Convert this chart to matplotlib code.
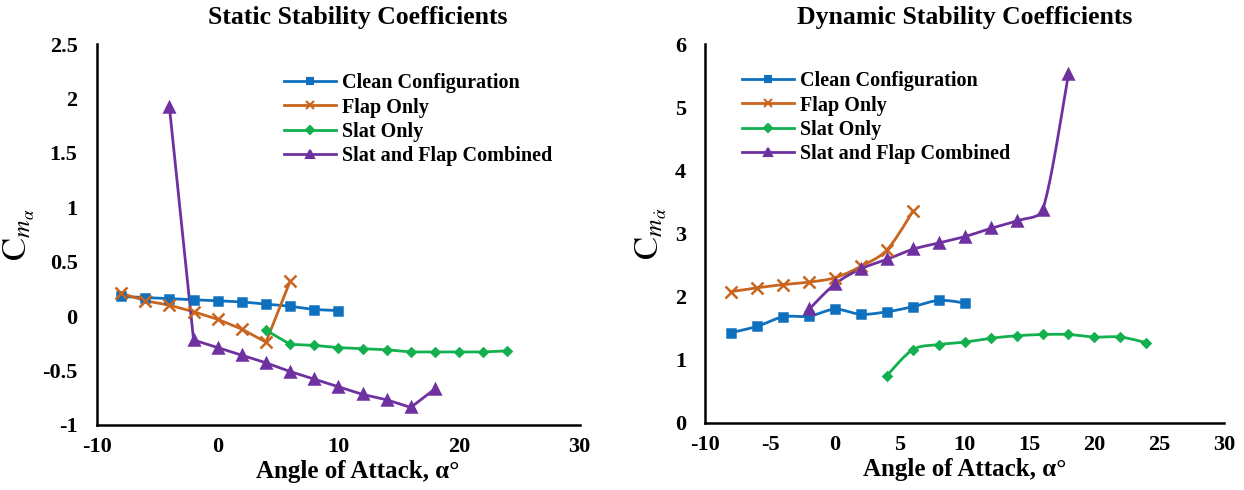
import numpy as np
import matplotlib

matplotlib.use("Agg")
import matplotlib.pyplot as plt
from matplotlib.lines import Line2D

# --- data ---
aoa_clean = [-8, -6, -4, -2, 0, 2, 4, 6, 8, 10]
aoa_flap = [-8, -6, -4, -2, 0, 2, 4, 6]
aoa_slat = [4, 6, 8, 10, 12, 14, 16, 18, 20, 22, 24]
aoa_comb_static = [-4, -2, 0, 2, 4, 6, 8, 10, 12, 14, 16, 18]
aoa_comb_dyn = [-2, 0, 2, 4, 6, 8, 10, 12, 14, 16, 18]

static_clean = [0.18, 0.17, 0.16, 0.15, 0.14, 0.13, 0.11, 0.09, 0.06, 0.05]
static_flap = [0.21, 0.14, 0.10, 0.04, -0.03, -0.12, -0.24, 0.32]
static_slat = [-0.13, -0.26, -0.27, -0.29, -0.30, -0.31, -0.33, -0.33, -0.33, -0.33, -0.32]
static_comb = [1.92, -0.22, -0.29, -0.36, -0.43, -0.51, -0.58, -0.65, -0.72, -0.77, -0.84, -0.67]

dyn_clean = [1.43, 1.53, 1.68, 1.69, 1.80, 1.72, 1.76, 1.84, 1.94, 1.90]
dyn_flap = [2.08, 2.14, 2.19, 2.23, 2.30, 2.48, 2.74, 3.35]
dyn_slat = [0.75, 1.16, 1.24, 1.28, 1.34, 1.38, 1.40, 1.40, 1.36, 1.36, 1.27]
dyn_comb = [1.80, 2.20, 2.44, 2.59, 2.75, 2.85, 2.95, 3.08, 3.20, 3.37, 5.52]

labels = ["Clean Configuration", "Flap Only", "Slat Only", "Slat and Flap Combined"]

# --- style ---
BLUE = "#0F70BE"
ORANGE = "#C9651E"
GREEN = "#12B04E"
PURPLE = "#7031A0"
colors = [BLUE, ORANGE, GREEN, PURPLE]
markers = ["s", "x", "D", "^"]
msizes = [5.5, 8, 4.5, 6.5]

plt.rcParams.update(
    {
        "font.family": "Liberation Serif",
        "mathtext.fontset": "stix",
    }
)


def smooth(x, y, span, n=24):
    # Excel-like smoothed line: cubic Bezier through the points, handles
    # from neighbours (Catmull-Rom) but clipped so they cannot overshoot
    p = np.column_stack([x, y]).astype(float) / np.array(span)
    out = []
    t = np.linspace(0, 1, n)[:, None]
    for i in range(len(p) - 1):
        p1, p2 = p[i], p[i + 1]
        p0 = p[i - 1] if i > 0 else p1
        p3 = p[i + 2] if i + 2 < len(p) else p2
        seg = np.linalg.norm(p2 - p1)
        d1 = (p2 - p0) / 6
        d2 = (p3 - p1) / 6
        lim = 0.4 * seg
        if np.linalg.norm(d1) > lim:
            d1 = d1 / np.linalg.norm(d1) * lim
        if np.linalg.norm(d2) > lim:
            d2 = d2 / np.linalg.norm(d2) * lim
        c1, c2 = p1 + d1, p2 - d2
        b = (1 - t) ** 3 * p1 + 3 * (1 - t) ** 2 * t * c1 + 3 * (1 - t) * t**2 * c2 + t**3 * p2
        out.append(b)
    out = np.vstack(out) * np.array(span)
    return out[:, 0], out[:, 1]


def draw(ax, xs, ys, span=None):
    for x, y, c, m, ms in zip(xs, ys, colors, markers, msizes):
        if span:
            sx, sy = smooth(x, y, span)
        else:
            sx, sy = x, y
        ax.plot(sx, sy, color=c, lw=2, zorder=3)
        ax.plot(x, y, ls="none", marker=m, ms=ms, color=c, mew=1.8, zorder=4)


def style(ax, title, tx, ylabel):
    ax.text(tx, 1.07, title, transform=ax.transAxes, ha="center", va="center",
            fontsize=18.5, fontweight="bold")
    ax.set_xlabel("Angle of Attack, α°", fontsize=18, fontweight="bold", labelpad=2)
    ax.xaxis.label.set_x(tx)
    ax.set_ylabel(ylabel, fontsize=25, labelpad=4)
    for s in ["top", "right"]:
        ax.spines[s].set_visible(False)
    for s in ["left", "bottom"]:
        ax.spines[s].set_linewidth(1.8)
    ax.tick_params(length=0, labelsize=16)
    ax.tick_params(axis="y", pad=14)
    ax.tick_params(axis="x", pad=9)
    for t in ax.get_xticklabels() + ax.get_yticklabels():
        t.set_fontweight("bold")
    handles = [
        Line2D([], [], color=c, lw=2, marker=m, ms=ms * 0.8, mew=1.5, label=lab)
        for c, m, ms, lab in zip(colors, markers, msizes, labels)
    ]
    return handles


fig = plt.figure(figsize=(12.44, 4.9), dpi=100)
ax1 = fig.add_axes([0.078, 0.133, 0.388, 0.777])
ax2 = fig.add_axes([0.567, 0.137, 0.417, 0.773])

# static panel
draw(ax1, [aoa_clean, aoa_flap, aoa_slat, aoa_comb_static],
     [static_clean, static_flap, static_slat, static_comb])
ax1.set_xlim(-10, 30)
ax1.set_ylim(-1, 2.5)
ax1.set_xticks([-10, 0, 10, 20, 30])
ax1.set_xticklabels(["-10", "0", "10", "20", "30"])
ax1.set_yticks([-1, -0.5, 0, 0.5, 1, 1.5, 2, 2.5])
ax1.set_yticklabels(["-1", "-0.5", "0", "0.5", "1", "1.5", "2", "2.5"])
h = style(ax1, "Static Stability Coefficients", 0.54, r"$\mathrm{C}_{m_\alpha}$")
ax1.legend(handles=h, loc="upper left", bbox_to_anchor=(0.37, 0.945), frameon=False,
           handlelength=2.6, handletextpad=0.3, labelspacing=0.22, borderaxespad=0,
           prop={"weight": "bold", "size": 14.5})

# dynamic panel
draw(ax2, [aoa_clean, aoa_flap, aoa_slat, aoa_comb_dyn],
     [dyn_clean, dyn_flap, dyn_slat, dyn_comb], span=(40, 6))
ax2.set_xlim(-10, 30)
ax2.set_ylim(0, 6)
ax2.set_xticks([-10, -5, 0, 5, 10, 15, 20, 25, 30])
ax2.set_xticklabels(["-10", "-5", "0", "5", "10", "15", "20", "25", "30"])
ax2.set_yticks([0, 1, 2, 3, 4, 5, 6])
h = style(ax2, "Dynamic Stability Coefficients", 0.5, r"$\mathrm{C}_{m_{\dot{\alpha}}}$")
ax2.legend(handles=h, loc="upper left", bbox_to_anchor=(0.055, 0.95), frameon=False,
           handlelength=2.6, handletextpad=0.3, labelspacing=0.22, borderaxespad=0,
           prop={"weight": "bold", "size": 14.5})

fig.savefig("out.png", dpi=100)
